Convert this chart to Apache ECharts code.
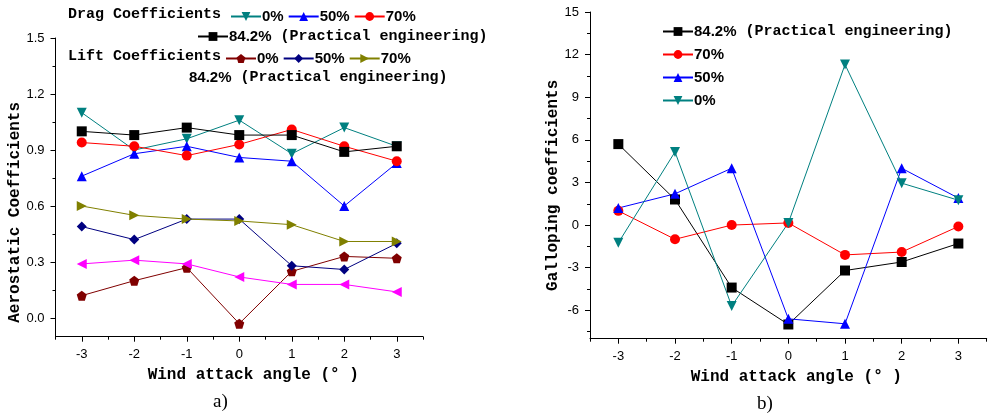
<!DOCTYPE html>
<html>
<head>
<meta charset="utf-8">
<script src="https://cdn.jsdelivr.net/npm/echarts@6/dist/echarts.min.js"></script>
<style>
html, body { margin: 0; padding: 0; background: #fff; }
#main { width: 992px; height: 418px; }
</style>
</head>
<body>
<div id="main"></div>
<script>
// wind attack angles (deg)
const angles = [-3, -2, -1, 0, 1, 2, 3]

// a) aerostatic coefficients
const drag0 = [1.10, 0.90, 0.96, 1.06, 0.88, 1.02, 0.92]
const drag50 = [0.76, 0.88, 0.92, 0.86, 0.84, 0.60, 0.83]
const drag70 = [0.94, 0.92, 0.87, 0.93, 1.01, 0.92, 0.84]
const drag84 = [1.00, 0.98, 1.02, 0.98, 0.98, 0.89, 0.92]
const lift0 = [0.12, 0.20, 0.27, -0.03, 0.25, 0.33, 0.32]
const lift50 = [0.49, 0.42, 0.53, 0.53, 0.28, 0.26, 0.40]
const lift70 = [0.60, 0.55, 0.53, 0.52, 0.50, 0.41, 0.41]
const lift84 = [0.29, 0.31, 0.29, 0.22, 0.18, 0.18, 0.14]

// b) galloping coefficients
const gall84 = [5.7, 1.8, -4.4, -7.0, -3.2, -2.6, -1.3]
const gall70 = [1.0, -1.0, 0.0, 0.15, -2.1, -1.9, -0.1]
const gall50 = [1.2, 2.2, 4.0, -6.6, -6.95, 4.0, 1.9]
const gall0 = [-1.25, 5.15, -5.7, 0.15, 11.3, 2.95, 1.75]

// tick labels
const xLabels = [-3, -2, -1, 0, 1, 2, 3]
const xMinor = [-3.5, -2.5, -1.5, -0.5, 0.5, 1.5, 2.5, 3.5]
const aLabels = [0, 0.3, 0.6, 0.9, 1.2, 1.5]
const aMinor = [0.15, 0.45, 0.75, 1.05, 1.35]
const bLabels = [-6, -3, 0, 3, 6, 9, 12, 15]
const bMinor = [-7.5, -4.5, -1.5, 1.5, 4.5, 7.5, 10.5, 13.5]

const mono = '"Liberation Mono", "DejaVu Sans Mono", monospace'
const sans = '"Liberation Sans", Arial, sans-serif'

const SYM = {
  down: 'path://M0,0 L10,0 L5,9 Z',
  up: 'path://M5,0 L10,9 L0,9 Z',
  right: 'path://M0,0 L9,5 L0,10 Z',
  left: 'path://M9,0 L9,10 L0,5 Z',
  pent: 'path://M5,0 L10,3.7 L8.1,9.6 L1.9,9.6 L0,3.7 Z'
}

function pts (vals) {
  return angles.map(function (a, i) { return [a, vals[i]] })
}

function line (name, vals, color, symbol, grid) {
  return {
    name: name,
    type: 'line',
    xAxisIndex: grid * 2,
    yAxisIndex: grid * 2,
    data: pts(vals),
    symbol: symbol,
    symbolSize: 10,
    color: color,
    lineStyle: { width: 1, color: color },
    itemStyle: { color: color },
    animation: false
  }
}

const rich = {
  a: { fontFamily: sans, fontWeight: 'bold', fontSize: 15, color: '#000' },
  b: { fontFamily: mono, fontWeight: 'bold', fontSize: 15, color: '#000' }
}

function legendText (name) {
  const t = name.replace(/^(Drag|Lift|Gall) /, '')
  if (t === '84.2%') return '{a|84.2%}{b| (Practical engineering)}'
  return '{a|' + t + '}'
}

function legend (left, top, data, orient, gap) {
  return {
    left: left,
    top: top,
    orient: orient || 'horizontal',
    itemGap: gap || 4,
    itemWidth: 30,
    itemHeight: 11,
    padding: 0,
    data: data,
    selectedMode: false,
    formatter: legendText,
    textStyle: { rich: rich, padding: [0, 0, 0, -4] }
  }
}

function xAxes (grid, minorOnly) {
  return {
    type: 'value',
    gridIndex: grid,
    position: 'bottom',
    min: -3.5,
    max: 3.5,
    splitLine: { show: false },
    axisLine: { show: !minorOnly, onZero: false, lineStyle: { color: '#000', width: 1 } },
    axisTick: minorOnly
      ? { customValues: xMinor, length: 3, lineStyle: { color: '#000' } }
      : { customValues: xLabels, length: 5, lineStyle: { color: '#000' } },
    axisLabel: minorOnly
      ? { show: false }
      : { customValues: xLabels, margin: 11, fontFamily: sans, fontSize: 13, color: '#000' },
    name: minorOnly ? '' : 'Wind attack angle (° )',
    nameLocation: 'middle',
    nameGap: 30,
    nameTextStyle: {
      fontFamily: mono,
      fontWeight: 'bold',
      fontSize: 16,
      color: '#000',
      padding: grid === 0 ? [0, 0, 0, 28] : [0, 0, 0, 16]
    }
  }
}

function yAxes (grid, min, max, labels, minor, name, digits, pad, minorOnly) {
  return {
    type: 'value',
    gridIndex: grid,
    position: 'left',
    min: min,
    max: max,
    splitLine: { show: false },
    axisLine: { show: !minorOnly, onZero: false, lineStyle: { color: '#000', width: 1 } },
    axisTick: minorOnly
      ? { customValues: minor, length: 3, lineStyle: { color: '#000' } }
      : { customValues: labels, length: 5, lineStyle: { color: '#000' } },
    axisLabel: minorOnly
      ? { show: false }
      : {
          customValues: labels,
          margin: 11,
          fontFamily: sans,
          fontSize: 13,
          color: '#000',
          formatter: function (v) { return v.toFixed(digits) }
        },
    name: minorOnly ? '' : name,
    nameLocation: 'middle',
    nameGap: 25,
    nameTextStyle: {
      fontFamily: mono,
      fontWeight: 'bold',
      fontSize: 16,
      color: '#000',
      padding: [0, pad, 0, 0]
    }
  }
}

const chartDom = document.getElementById('main')
const myChart = echarts.init(chartDom)

const option = {
  backgroundColor: '#fff',
  animation: false,
  grid: [
    { left: 55.5, top: 38, width: 367.5, height: 298.7 },
    { left: 590, top: 12, width: 396.7, height: 326.7 }
  ],
  xAxis: [xAxes(0), xAxes(0, true), xAxes(1), xAxes(1, true)],
  yAxis: [
    yAxes(0, -0.1, 1.5, aLabels, aMinor, 'Aerostatic Coefficients', 1, 50),
    yAxes(0, -0.1, 1.5, aLabels, aMinor, '', 1, 0, true),
    yAxes(1, -8, 15, bLabels, bMinor, 'Galloping coefficients', 0, 20),
    yAxes(1, -8, 15, bLabels, bMinor, '', 0, 0, true)
  ],
  legend: [
    legend(230, 9, ['Drag 0%', 'Drag 50%', 'Drag 70%']),
    legend(197, 29, ['Drag 84.2%']),
    legend(225, 51, ['Lift 0%', 'Lift 50%', 'Lift 70%']),
    legend(662, 24, ['Gall 84.2%', 'Gall 70%', 'Gall 50%', 'Gall 0%'], 'vertical', 8)
  ],
  graphic: [
    { type: 'text', left: 68, top: 7, style: { text: 'Drag Coefficients', font: 'bold 15px ' + mono, fill: '#000' } },
    { type: 'text', left: 68, top: 49, style: { text: 'Lift Coefficients', font: 'bold 15px ' + mono, fill: '#000' } },
    { type: 'text', left: 189, top: 70, style: { text: '{a|84.2%}{b| (Practical engineering)}', rich: rich } },
    { type: 'text', left: 213, top: 393, style: { text: 'a)', font: '19px "Liberation Serif", serif', fill: '#000' } },
    { type: 'text', left: 757, top: 395, style: { text: 'b)', font: '19px "Liberation Serif", serif', fill: '#000' } }
  ],
  series: [
    line('Drag 0%', drag0, '#008080', SYM.down, 0),
    line('Drag 50%', drag50, '#0000ff', SYM.up, 0),
    line('Drag 70%', drag70, '#ff0000', 'circle', 0),
    line('Drag 84.2%', drag84, '#000000', 'rect', 0),
    line('Lift 0%', lift0, '#800000', SYM.pent, 0),
    line('Lift 50%', lift50, '#000080', 'diamond', 0),
    line('Lift 70%', lift70, '#808000', SYM.right, 0),
    line('Lift 84.2%', lift84, '#ff00ff', SYM.left, 0),
    line('Gall 84.2%', gall84, '#000000', 'rect', 1),
    line('Gall 70%', gall70, '#ff0000', 'circle', 1),
    line('Gall 50%', gall50, '#0000ff', SYM.up, 1),
    line('Gall 0%', gall0, '#008080', SYM.down, 1)
  ]
}

myChart.setOption(option)
window.addEventListener('resize', () => {
  myChart.resize()
})
</script>
</body>
</html>
